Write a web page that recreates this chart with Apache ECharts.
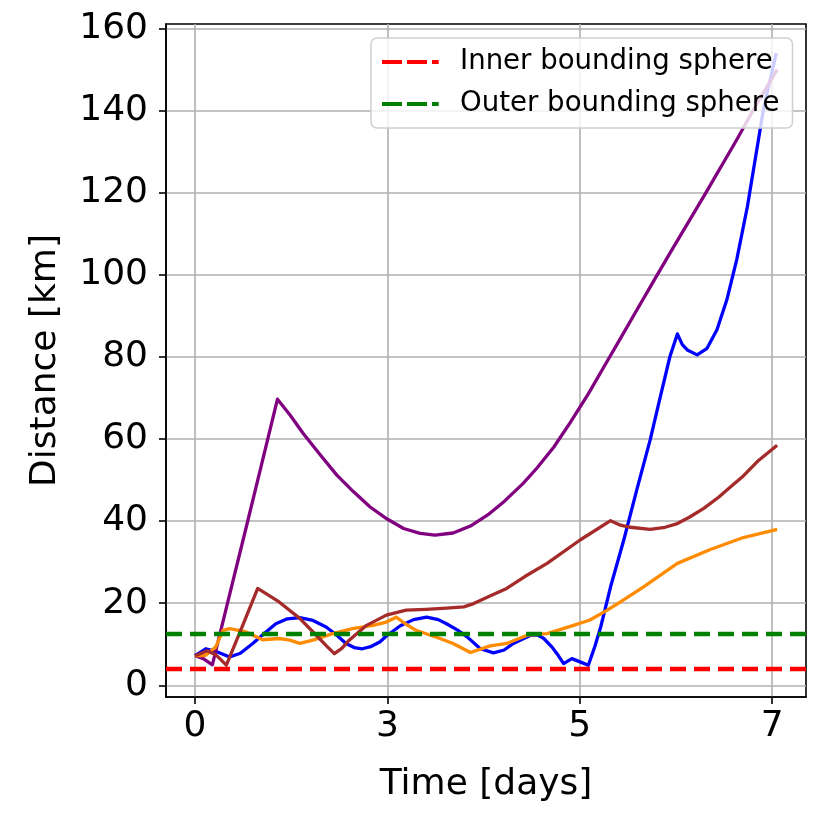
<!DOCTYPE html>
<html>
<head>
<meta charset="utf-8">
<script src="https://cdn.jsdelivr.net/npm/echarts@6/dist/echarts.min.js"></script>
<style>
  html, body { margin: 0; padding: 0; background: #fff; }
  #main { width: 830px; height: 830px; }
</style>
</head>
<body>
<div id="main"></div>
<script>
// tick positions and labels
var xTickValues = [0, 7 / 3, 14 / 3, 7];
var xTickLabels = ['0', '3', '5', '7'];
var yTickValues = [0, 20, 40, 60, 80, 100, 120, 140, 160];

// bounding spheres [km]
var innerRadius = 4.0;
var outerRadius = 12.5;

// blue
var blueX = [0, 0.13, 0.25, 0.42, 0.55, 0.70, 0.85, 0.98, 1.12, 1.27, 1.43, 1.59, 1.72, 1.83, 1.93, 2.03, 2.13, 2.245, 2.32, 2.49, 2.65, 2.81, 2.95, 3.05, 3.18, 3.30, 3.46, 3.62, 3.75, 3.86, 4.07, 4.15, 4.23, 4.33, 4.39, 4.47, 4.57, 4.67, 4.77, 4.85, 4.92, 5.04, 5.20, 5.36, 5.52, 5.64, 5.76, 5.85, 5.91, 5.97, 6.09, 6.21, 6.33, 6.45, 6.57, 6.70, 6.80, 6.90, 7.05];
var blueY = [7.2, 8.9, 8.3, 6.9, 7.8, 10.2, 12.8, 15.0, 16.2, 16.5, 15.8, 14.2, 12.2, 10.2, 9.2, 8.9, 9.4, 10.6, 12.0, 14.5, 16.0, 16.6, 16.0, 15.0, 13.5, 11.8, 8.9, 7.9, 8.6, 10.2, 12.2, 12.3, 11.4, 9.3, 7.7, 5.3, 6.5, 5.7, 4.9, 9.5, 14.2, 24.0, 35.4, 47.8, 59.8, 70.0, 80.1, 85.6, 83.0, 81.7, 80.5, 82.1, 86.6, 93.9, 103.7, 116.7, 128.9, 141.0, 154.0];

// purple
var purpleX = [0, 0.1, 0.21, 0.4, 0.6, 0.8, 1.0, 1.15, 1.31, 1.52, 1.72, 1.92, 2.12, 2.33, 2.53, 2.73, 2.91, 3.13, 3.34, 3.55, 3.75, 3.98, 4.15, 4.35, 4.55, 4.77, 4.96, 5.16, 5.36, 5.56, 5.76, 6.17, 6.57, 6.82, 7.06];
var purpleY = [7.2, 6.5, 5.0, 20.5, 36.8, 53.2, 69.7, 65.9, 61.4, 56.1, 51.2, 47.2, 43.5, 40.5, 38.2, 37.0, 36.6, 37.1, 38.8, 41.5, 44.8, 49.2, 53.0, 58.0, 64.0, 71.0, 77.6, 84.5, 91.5, 98.4, 105.3, 119.1, 132.9, 141.9, 150.0];

// brown
var brownX = [0, 0.15, 0.26, 0.38, 0.57, 0.76, 1.02, 1.27, 1.47, 1.60, 1.69, 1.78, 1.87, 2.08, 2.245, 2.32, 2.56, 2.80, 3.05, 3.26, 3.38, 3.55, 3.78, 4.0, 4.27, 4.67, 5.04, 5.16, 5.28, 5.52, 5.70, 5.85, 6.0, 6.17, 6.35, 6.50, 6.65, 6.82, 7.06];
var brownY = [7.2, 8.4, 7.3, 4.9, 14.2, 23.6, 20.3, 16.3, 12.2, 9.5, 7.7, 9.0, 11.0, 14.6, 16.3, 17.1, 18.3, 18.5, 18.8, 19.1, 19.9, 21.5, 23.6, 26.5, 29.7, 35.4, 40.1, 39.0, 38.5, 38.0, 38.5, 39.4, 41.0, 43.1, 45.8, 48.4, 51.0, 54.5, 58.5];

// orange
var orangeX = [0, 0.13, 0.25, 0.34, 0.42, 0.62, 0.82, 1.02, 1.15, 1.27, 1.43, 1.67, 1.91, 2.16, 2.32, 2.44, 2.55, 2.68, 2.97, 3.13, 3.34, 3.58, 3.78, 4.03, 4.27, 4.59, 4.79, 5.00, 5.16, 5.44, 5.85, 6.25, 6.65, 7.06];
var orangeY = [7.2, 7.3, 9.3, 13.4, 13.8, 13.0, 11.1, 11.4, 11.0, 10.2, 11.0, 12.6, 13.8, 14.6, 15.4, 16.6, 15.0, 13.4, 11.4, 10.2, 8.0, 9.6, 10.2, 12.2, 12.6, 14.6, 15.9, 18.3, 20.3, 24.0, 29.7, 33.1, 36.0, 38.0];

var xMin = -0.352, xMax = 7.41;
var yMin = -2.85, yMax = 161.1;

function pairs(xs, ys) {
    var out = [];
    for (var i = 0; i < xs.length; i++) {
        out.push([xs[i], ys[i]]);
    }
    return out;
}

function curve(name, color, xs, ys) {
    return {
        name: name,
        type: 'line',
        data: pairs(xs, ys),
        showSymbol: false,
        symbol: 'none',
        lineStyle: { color: color, width: 3.3, join: 'round' },
        itemStyle: { color: color },
        silent: true
    };
}

function hline(name, color, y) {
    return {
        name: name,
        type: 'line',
        data: [[xMin, y], [xMax, y]],
        showSymbol: false,
        symbol: 'none',
        lineStyle: { color: color, width: 4.5, type: [16, 8] },
        itemStyle: { color: color },
        silent: true
    };
}

// dashed legend handle, the last zero-width piece only widens the box to push the text right
var dashIcon = 'path://M0,0H20V4H0Z M25,0H45V4H25Z M50,0H56.7V4H50Z M73,0L73,4';

var font = 'DejaVu Sans';
var myChart = echarts.init(document.getElementById('main'));

var option = {
    animation: false,
    backgroundColor: '#fff',
    textStyle: { fontFamily: font },
    grid: {
        left: 166, right: 24, top: 24, bottom: 133,
        show: true, borderColor: '#000', borderWidth: 1.6,
        containLabel: false, outerBoundsMode: 'none'
    },
    legend: {
        orient: 'vertical',
        left: 371, top: 38,
        data: ['Inner bounding sphere', 'Outer bounding sphere'],
        backgroundColor: 'rgba(255,255,255,0.8)',
        borderColor: '#d0d0d0', borderWidth: 1.5, borderRadius: 6,
        padding: [10, 13, 10, 11],
        icon: dashIcon,
        itemWidth: 73, itemHeight: 4, itemGap: 14,
        itemStyle: { borderWidth: 0 },
        textStyle: { fontFamily: font, fontSize: 27.6, color: '#000' }
    },
    xAxis: {
        type: 'value',
        min: xMin, max: xMax,
        name: 'Time [days]',
        nameLocation: 'middle',
        nameGap: 70,
        nameTextStyle: { fontFamily: font, fontSize: 36, color: '#000' },
        axisLine: { show: true, onZero: false, lineStyle: { color: '#000', width: 1.6 } },
        axisTick: { show: true, length: 7, customValues: xTickValues, lineStyle: { color: '#000', width: 1.6 } },
        axisLabel: {
            customValues: xTickValues,
            margin: 12,
            fontFamily: font, fontSize: 36, color: '#000',
            formatter: function (v) {
                var best = 0;
                for (var i = 1; i < xTickValues.length; i++) {
                    if (Math.abs(xTickValues[i] - v) < Math.abs(xTickValues[best] - v)) best = i;
                }
                return xTickLabels[best];
            }
        },
        splitLine: { show: true, lineStyle: { color: '#b0b0b0', width: 1.6 } }
    },
    yAxis: {
        type: 'value',
        min: yMin, max: yMax,
        name: 'Distance [km]',
        nameLocation: 'middle',
        nameGap: 102,
        nameTextStyle: { fontFamily: font, fontSize: 36, color: '#000' },
        axisLine: { show: true, onZero: false, lineStyle: { color: '#000', width: 1.6 } },
        axisTick: { show: true, length: 7, customValues: yTickValues, lineStyle: { color: '#000', width: 1.6 } },
        axisLabel: {
            customValues: yTickValues,
            margin: 18,
            fontFamily: font, fontSize: 36, color: '#000'
        },
        splitLine: { show: true, lineStyle: { color: '#b0b0b0', width: 1.6 } }
    },
    series: [
        curve('Blue', '#0000ff', blueX, blueY),
        curve('Purple', '#800080', purpleX, purpleY),
        curve('Orange', '#ff8c00', orangeX, orangeY),
        curve('Brown', '#a52a2a', brownX, brownY),
        hline('Inner bounding sphere', '#ff0000', innerRadius),
        hline('Outer bounding sphere', '#008000', outerRadius)
    ]
};

myChart.setOption(option);
</script>
</body>
</html>
